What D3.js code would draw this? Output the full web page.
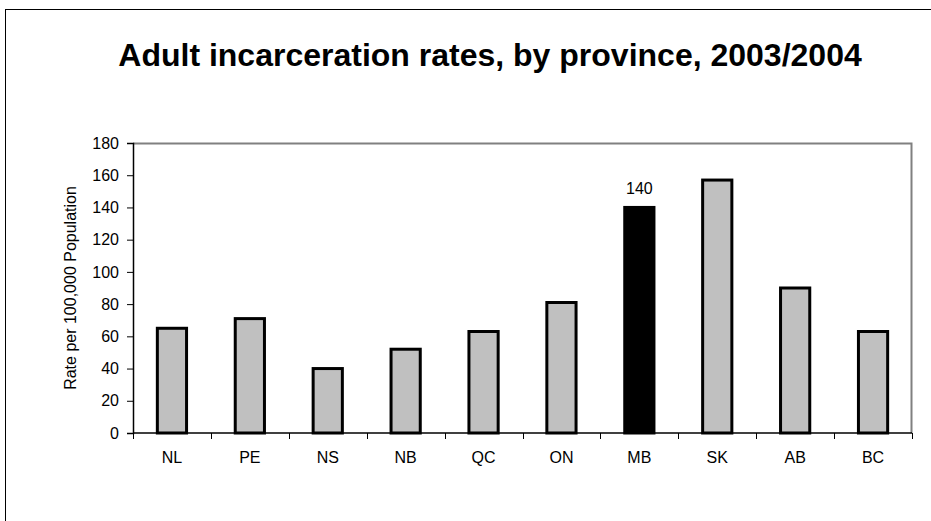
<!DOCTYPE html>
<html>
<head>
<meta charset="utf-8">
<script src="https://cdn.jsdelivr.net/npm/d3@7"></script>
<style>
  body { margin: 0; background: #fff; }
  text { font-family: Arial, "Liberation Sans", sans-serif; }
</style>
</head>
<body>
<div id="graph"></div>
<script>
var provinces = ['NL', 'PE', 'NS', 'NB', 'QC', 'ON', 'MB', 'SK', 'AB', 'BC'];
var rates = [65, 71, 40, 52, 63, 81, 140, 157, 90, 63];
var highlight = 'MB';
var yTicks = [0, 20, 40, 60, 80, 100, 120, 140, 160, 180];
var title = 'Adult incarceration rates, by province, 2003/2004';
var yTitle = 'Rate per 100,000 Population';

window.onload = start;

function start() {
    var width = 931, height = 521;
    var margin = {top: 143, right: 19, bottom: 88, left: 133};
    var fs = 16;

    var svg = d3.select('#graph')
        .append('svg')
        .attr('width', width)
        .attr('height', height);

    // outer chart border (runs off right and bottom edges)
    svg.append('rect')
        .attr('x', 5.5).attr('y', 9.5)
        .attr('width', 940).attr('height', 530)
        .attr('fill', 'none')
        .attr('stroke', '#000')
        .attr('stroke-width', 1);

    svg.append('text')
        .attr('x', 490)
        .attr('y', 66)
        .attr('text-anchor', 'middle')
        .attr('font-size', 32)
        .attr('font-weight', 'bold')
        .text(title);

    var w = width - margin.left - margin.right;
    var h = height - margin.top - margin.bottom;

    var g = svg.append('g')
        .attr('transform', 'translate(' + margin.left + ',' + margin.top + ')');

    var x = d3.scaleBand()
        .domain(provinces)
        .range([0, w])
        .paddingInner(0.625)
        .paddingOuter(0.3125);

    var y = d3.scaleLinear()
        .domain([0, 180])
        .range([h, 0]);

    // plot frame: grey top and right
    g.append('path')
        .attr('d', 'M0,0.5H' + (w - 0.5) + 'V' + h)
        .attr('fill', 'none')
        .attr('stroke', '#808080')
        .attr('stroke-width', 2);

    g.selectAll('.bar')
        .data(provinces)
        .enter().append('rect')
        .attr('class', 'bar')
        .attr('x', function(d) { return x(d); })
        .attr('y', function(d, i) { return y(rates[i]); })
        .attr('width', x.bandwidth())
        .attr('height', function(d, i) { return h - y(rates[i]); })
        .attr('fill', function(d) { return d == highlight ? '#000' : '#c0c0c0'; })
        .attr('stroke', '#000')
        .attr('stroke-width', 3);

    g.selectAll('.lbl')
        .data(provinces.filter(function(d) { return d == highlight; }))
        .enter().append('text')
        .attr('class', 'lbl')
        .attr('x', function(d) { return x(d) + x.bandwidth() / 2; })
        .attr('y', function(d) { return y(rates[provinces.indexOf(d)]) - 13; })
        .attr('text-anchor', 'middle')
        .attr('font-size', fs)
        .text(function(d) { return rates[provinces.indexOf(d)]; });

    var yAxis = d3.axisLeft(y)
        .tickValues(yTicks)
        .tickSize(6)
        .tickPadding(8);

    var yg = g.append('g').call(yAxis);
    yg.attr('font-size', fs).attr('font-family', null);
    yg.select('.domain').attr('stroke', '#000').attr('stroke-width', 1.5);
    yg.selectAll('.tick line').attr('stroke', '#000');
    yg.selectAll('.tick text')
        .attr('font-size', fs)
        .attr('fill', '#000');

    // x axis: ticks at band boundaries, labels centered
    var xg = g.append('g').attr('transform', 'translate(0,' + h + ')');
    xg.append('line')
        .attr('x1', 0).attr('x2', w)
        .attr('stroke', '#000').attr('stroke-width', 1.5);
    var step = x.step();
    xg.selectAll('.xt')
        .data(d3.range(provinces.length + 1))
        .enter().append('line')
        .attr('class', 'xt')
        .attr('x1', function(i) { return Math.round(i * step) + 0.5; })
        .attr('x2', function(i) { return Math.round(i * step) + 0.5; })
        .attr('y1', 0).attr('y2', 6)
        .attr('stroke', '#000');
    xg.selectAll('.xl')
        .data(provinces)
        .enter().append('text')
        .attr('class', 'xl')
        .attr('x', function(d) { return x(d) + x.bandwidth() / 2; })
        .attr('y', 29.5)
        .attr('text-anchor', 'middle')
        .attr('font-size', fs)
        .text(function(d) { return d; });

    svg.append('text')
        .attr('transform', 'translate(76,' + (margin.top + h / 2) + ') rotate(-90)')
        .attr('text-anchor', 'middle')
        .attr('font-size', fs)
        .text(yTitle);
}
</script>
</body>
</html>
